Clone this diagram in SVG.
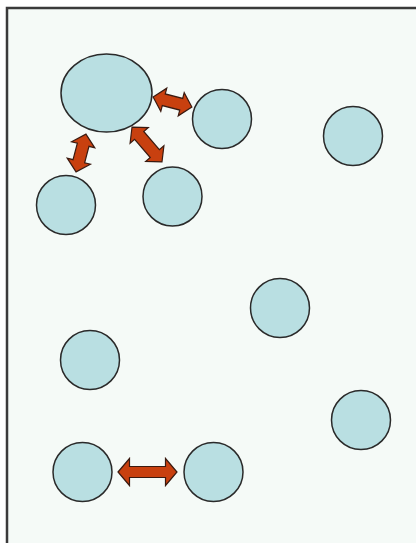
<svg xmlns="http://www.w3.org/2000/svg" width="416" height="543" viewBox="0 0 416 543">
<style>
.node{fill:#b9dfe2;stroke:#2a2a2a;stroke-width:1.5}
.arr{fill:#c8400f;stroke:#3a1a10;stroke-width:1.2;stroke-linejoin:miter}
</style>
<rect x="0" y="0" width="416" height="543" fill="#ffffff"/>
<rect id="frame" x="7" y="8" width="430" height="560" fill="#f5faf7" stroke="#3a3a3a" stroke-width="2.5"/>
<g id="connectors">
<path class="arr" transform="translate(172.5,102) rotate(14.4)" d="M-20,0 L-9,-12 L-9,-6 L9,-6 L9,-12 L20,0 L9,12 L9,6 L-9,6 L-9,12 Z"/>
<path class="arr" transform="translate(81,153) rotate(104.7)" d="M-19.5,0 L-8.5,-12 L-8.5,-6 L8.5,-6 L8.5,-12 L19.5,0 L8.5,12 L8.5,6 L-8.5,6 L-8.5,12 Z"/>
<path class="arr" transform="translate(147,144.5) rotate(49.4)" d="M-23,0 L-12,-12 L-12,-6 L12,-6 L12,-12 L23,0 L12,12 L12,6 L-12,6 L-12,12 Z"/>
<path class="arr" transform="translate(147.5,472)" d="M-29.5,0 L-18,-13.5 L-18,-5.5 L18,-5.5 L18,-13.5 L29.5,0 L18,13.5 L18,5.5 L-18,5.5 L-18,13.5 Z"/>
</g>
<g id="n1"><ellipse class="node" cx="106.5" cy="93" rx="45.5" ry="39"/></g>
<g id="n2"><circle class="node" cx="222" cy="119" r="29.5"/></g>
<g id="n3"><circle class="node" cx="172.5" cy="196.5" r="29.5"/></g>
<g id="n4"><circle class="node" cx="66" cy="205" r="29.5"/></g>
<g id="n5"><circle class="node" cx="353" cy="136" r="29.5"/></g>
<g id="n6"><circle class="node" cx="280" cy="308" r="29.5"/></g>
<g id="n7"><circle class="node" cx="90" cy="360" r="29.5"/></g>
<g id="n8"><circle class="node" cx="361" cy="420" r="29.5"/></g>
<g id="n9"><circle class="node" cx="82.5" cy="472" r="29.5"/></g>
<g id="n10"><circle class="node" cx="213.5" cy="472" r="29.5"/></g>
</svg>
